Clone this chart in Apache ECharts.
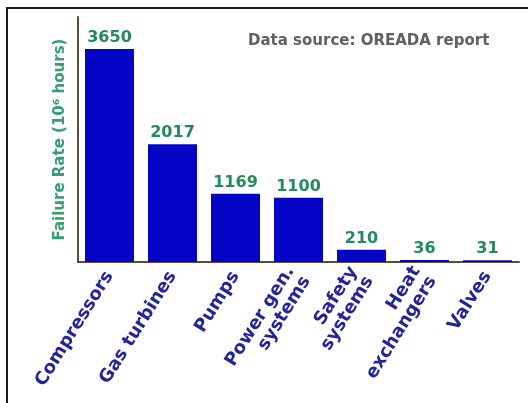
<!DOCTYPE html>
<html>
<head>
<meta charset="utf-8">
<script src="https://cdn.jsdelivr.net/npm/echarts@6/dist/echarts.min.js"></script>
<style>
  html, body { margin: 0; padding: 0; background: #fff; }
  #chart { width: 528px; height: 403px; }
</style>
</head>
<body>
<div id="chart"></div>
<script>
// categories and values
var categories = ['Compressors', 'Gas turbines', 'Pumps', 'Power gen.\nsystems', 'Safety\nsystems', 'Heat\nexchangers', 'Valves'];
var failureRates = [3650, 2017, 1169, 1100, 210, 36, 31];

var myChart = echarts.init(document.getElementById('chart'));
var option = {
  animation: false,
  backgroundColor: '#fff',
  grid: { left: 78, right: 9, top: 17, bottom: 141 },
  graphic: [
    {
      type: 'rect',
      shape: { x: 7, y: 8, width: 530, height: 410 },
      style: { fill: 'none', stroke: '#1a1a1a', lineWidth: 2 },
      silent: true
    },
    {
      type: 'text',
      left: 248, top: 34,
      style: {
        text: 'Data source: OREADA report',
        fill: '#606060',
        font: 'bold 15px "DejaVu Sans", Verdana, sans-serif'
      }
    }
  ],
  xAxis: {
    type: 'category',
    data: categories,
    axisLine: { lineStyle: { color: '#55503a', width: 2 } },
    axisTick: { show: false },
    axisLabel: {
      interval: 0,
      rotate: 58,
      margin: 11,
      color: '#23239a',
      fontWeight: 'bold',
      fontSize: 18,
      lineHeight: 19,
      align: 'right',
      fontFamily: '"DejaVu Sans", Verdana, sans-serif'
    }
  },
  yAxis: {
    type: 'value',
    min: 0,
    max: 4200,
    name: 'Failure Rate (10\u2076 hours)',
    nameLocation: 'middle',
    nameGap: 10,
    nameTextStyle: {
      color: '#34a070',
      fontSize: 15,
      fontWeight: 'bold',
      fontFamily: '"DejaVu Sans", Verdana, sans-serif'
    },
    axisLine: { show: true, lineStyle: { color: '#55503a', width: 2 } },
    axisTick: { show: false },
    axisLabel: { show: false },
    splitLine: { show: false }
  },
  series: [{
    type: 'bar',
    data: failureRates,
    barWidth: 49,
    itemStyle: { color: '#0505c8' },
    label: {
      show: true,
      position: 'top',
      distance: 3,
      color: '#238a5a',
      fontWeight: 'bold',
      fontSize: 16,
      fontFamily: '"DejaVu Sans", Verdana, sans-serif'
    }
  }]
};
myChart.setOption(option);
</script>
</body>
</html>
